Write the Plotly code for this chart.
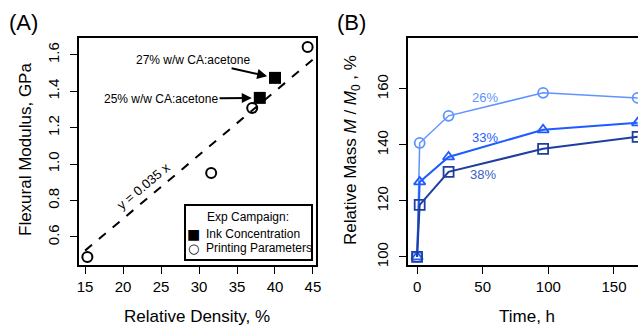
import plotly.graph_objects as go

# ---- Panel A data ----
ink_density = [38.0, 40.0]
ink_modulus = [1.364, 1.474]
ink_labels = ["25% w/w CA:acetone", "27% w/w CA:acetone"]
print_density = [15.3, 31.6, 37.0, 44.3]
print_modulus = [0.49, 0.952, 1.309, 1.644]
fit_slope = 0.035
fit_x = [15, 45]

# ---- Panel B data ----
time_h = [0, 2, 24, 96, 168]
mass_26 = [100, 140.7, 150.4, 158.6, 156.8]
mass_33 = [100, 126.8, 135.7, 145.4, 147.9]
mass_38 = [100, 118.6, 130.4, 138.6, 142.9]
series_labels = ["26%", "33%", "38%"]

FONT = "Liberation Sans, Arial, sans-serif"
C26 = "#5f94ff"
C33 = "#1f5cff"
C38 = "#1f3f9e"
W, H = 638, 327

fig = go.Figure()

# Panel A traces
fig.add_trace(go.Scatter(
    x=fit_x, y=[fit_slope * v for v in fit_x], mode="lines",
    line=dict(color="black", width=2, dash="dash"),
    xaxis="x", yaxis="y", showlegend=False, hoverinfo="skip"))
fig.add_trace(go.Scatter(
    x=ink_density, y=ink_modulus, mode="markers", name="Ink Concentration",
    marker=dict(symbol="square", size=12, color="black"),
    xaxis="x", yaxis="y", showlegend=False))
fig.add_trace(go.Scatter(
    x=print_density, y=print_modulus, mode="markers", name="Printing Parameters",
    marker=dict(symbol="circle-open", size=10, color="black", line=dict(width=2)),
    xaxis="x", yaxis="y", showlegend=False))

# Panel B traces
for ys, sym, col, w in [(mass_26, "circle-open", C26, 1.5),
                        (mass_33, "triangle-up-open", C33, 2),
                        (mass_38, "square-open", C38, 2)]:
    fig.add_trace(go.Scatter(
        x=time_h, y=ys, mode="lines+markers",
        line=dict(color=col, width=w),
        marker=dict(symbol=sym, size=10, color=col, line=dict(width=1.8, color=col)),
        xaxis="x2", yaxis="y2", showlegend=False))

ydom = [62 / H, 289 / H]
tickfont = dict(family=FONT, size=15, color="black")
common = dict(showgrid=False, zeroline=False, ticks="outside", ticklen=7,
              tickwidth=1, tickcolor="black", showline=True, linecolor="black",
              linewidth=2, tickfont=tickfont)

fig.update_layout(
    width=W, height=H,
    margin=dict(l=0, r=0, t=0, b=0, autoexpand=False),
    paper_bgcolor="white", plot_bgcolor="white",
    font=dict(family=FONT, color="black"),
    showlegend=False,
    xaxis=dict(domain=[79 / W, 316 / W], range=[14.2, 45.4],
               tickvals=[15, 20, 25, 30, 35, 40, 45], mirror=True, anchor="y", **common),
    yaxis=dict(domain=ydom, range=[0.446, 1.693],
               tickvals=[0.6, 0.8, 1.0, 1.2, 1.4, 1.6], ticktext=["0.6", "0.8", "1.0", "1.2", "1.4", "1.6"],
               tickangle=-90, mirror=True, anchor="x", ticklabelstandoff=5, **common),
    xaxis2=dict(domain=[408 / W, 1.0], range=[-6.9, 168.3],
                tickvals=[0, 50, 100, 150], mirror=True, anchor="y2", **common),
    yaxis2=dict(domain=ydom, range=[97.1, 178.2],
                tickvals=[100, 120, 140, 160], tickangle=-90, anchor="x2", ticklabelstandoff=5, **common),
)

# manual legend box
fig.add_shape(type="rect", xref="paper", yref="paper",
              x0=185 / W, x1=312 / W, y0=1 - 260 / H, y1=1 - 205 / H,
              line=dict(color="black", width=2), fillcolor="white", layer="above")


def pa(text, px, py, size, xanchor="center", family=FONT, color="black", angle=0):
    return dict(text=text, x=px / W, y=1 - py / H, xref="paper", yref="paper",
                xanchor=xanchor, yanchor="middle", showarrow=False, textangle=angle,
                font=dict(family=family, size=size, color=color))


ann = []
ann.append(pa("Exp Campaign:", 248, 217, 12))
ann.append(pa("■", 194, 234, 14, family="DejaVu Sans"))
ann.append(pa("○", 194, 248, 13, family="DejaVu Sans"))
ann.append(pa("Ink Concentration", 204, 234, 12, xanchor="left"))
ann.append(pa("Printing Parameters", 204, 248, 12, xanchor="left"))
# panel labels
ann.append(pa("(A)", 7, 23, 22, xanchor="left"))
ann.append(pa("(B)", 335, 23, 22, xanchor="left"))
# axis titles
ann.append(pa("Flexural Modulus, GPa", 25, 150, 17, angle=-90))
ann.append(pa("Relative Density, %", 197, 316, 17))
ann.append(pa("Relative Mass <i>M</i> / <i>M</i><sub>0</sub> , %", 352, 150, 17, angle=-90))
ann.append(pa("Time, h", 527, 316, 17))
# fit equation
ann.append(dict(text="y = 0.035 x", x=22.6, y=0.88, xref="x", yref="y", textangle=-40,
                xanchor="center", yanchor="middle",
                showarrow=False, font=dict(family=FONT, size=13)))
# ink annotations with arrows
ann.append(dict(text=ink_labels[1], x=ink_density[1], y=ink_modulus[1], xref="x", yref="y",
                ax=29.2, ay=1.573, axref="x", ayref="y", showarrow=True, arrowhead=2,
                arrowsize=1, arrowwidth=2, arrowcolor="black", standoff=8,
                font=dict(family=FONT, size=12)))
ann.append(dict(text=ink_labels[0], x=ink_density[0], y=ink_modulus[0], xref="x", yref="y",
                ax=25.0, ay=1.36, axref="x", ayref="y", showarrow=True, arrowhead=2,
                arrowsize=1, arrowwidth=2, arrowcolor="black", standoff=8,
                font=dict(family=FONT, size=12)))
# series labels
for lab, xx, yy, col in [(series_labels[0], 51.8, 157.1, C26),
                         (series_labels[1], 51.8, 142.5, C33),
                         (series_labels[2], 50.3, 129.3, "#3a5fc0")]:
    ann.append(dict(text=lab, x=xx, y=yy, xref="x2", yref="y2", showarrow=False,
                    xanchor="center", yanchor="middle",
                    font=dict(family=FONT, size=13, color=col)))

fig.update_layout(annotations=ann)
fig.write_html("out.html", config={"displayModeBar": False},
               post_script="document.body.style.margin='0px';")
